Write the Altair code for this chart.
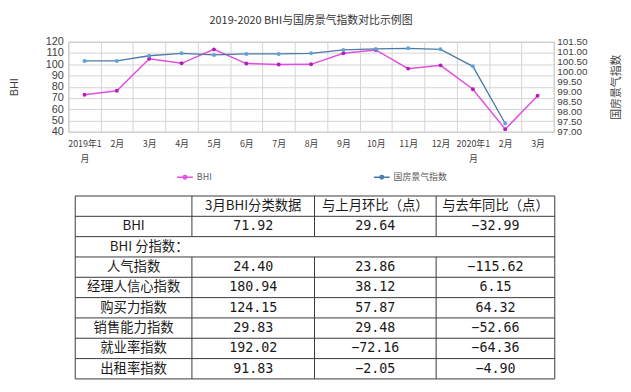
import json
import altair as alt
import pandas as pd

# ---------------- data ----------------
chart_title = "2019-2020 BHI与国房景气指数对比示例图"
months = ["2019年1月", "2月", "3月", "4月", "5月", "6月", "7月", "8月",
          "9月", "10月", "11月", "12月", "2020年1月", "2月", "3月"]
bhi = [72.9, 76.4, 104.91, 100.8, 113.2, 100.6, 99.7, 99.9,
       109.7, 112.7, 96.1, 99.0, 77.8, 42.28, 71.92]
gf_index = [100.54, 100.54, 100.80, 100.92, 100.84, 100.89, 100.89, 100.92,
            101.09, 101.14, 101.17, 101.12, 100.27, 97.41, None]
series_names = ["BHI", "国房景气指数"]
left_ticks = [40, 50, 60, 70, 80, 90, 100, 110, 120]
right_ticks = [97.0, 97.5, 98.0, 98.5, 99.0, 99.5, 100.0, 100.5, 101.0, 101.5]

table_header = ["3月BHI分类数据", "与上月环比（点）", "与去年同比（点）"]
sub_heading = "BHI 分指数："
row_names = ["BHI", "人气指数", "经理人信心指数", "购买力指数",
             "销售能力指数", "就业率指数", "出租率指数"]
val_march = [71.92, 24.40, 180.94, 124.15, 29.83, 192.02, 91.83]
val_mom = [29.64, 23.86, 38.12, 57.87, 29.48, -72.16, -2.05]
val_yoy = [-32.99, -115.62, 6.15, 64.32, -52.66, -64.36, -4.90]

# ---------------- styling ----------------
C_BHI_LINE = "#e24ee2"
C_BHI_PT = "#b41eb4"
C_GF_LINE = "#4a7aa6"
C_GF_PT = "#62a3d6"
GRID = "#d4d4d4"
TXT = "#404040"
LAT = "Liberation Sans, Noto Sans CJK SC"
CJK = "Noto Sans CJK SC"

PW, PH = 491, 91

# ---------------- top line chart ----------------
df = pd.DataFrame({"i": list(range(len(months))), "month": months,
                   "bhi": bhi, "gf": gf_index})

label_lines = [[m[:-1], m[-1]] if len(m) > 4 else m for m in months]
label_expr = json.dumps(label_lines, ensure_ascii=False) + "[datum.value]"

x_enc = alt.X(
    "i:O",
    scale=alt.Scale(type="band", paddingInner=0, paddingOuter=0),
    axis=alt.Axis(title=None, labelExpr=label_expr, labelAngle=0,
                  tickBand="extent", grid=True, gridColor=GRID, ticks=False,
                  domain=False, labelPadding=8, labelFontSize=9,
                  labelLineHeight=15, labelColor=TXT, labelFont=CJK),
)

color_scale = alt.Scale(domain=series_names, range=[C_BHI_LINE, C_GF_LINE])
legend_path = "M-1,0L1,0M-0.22,0A0.22,0.22,0,1,1,0.22,0A0.22,0.22,0,1,1,-0.22,0"
legend = alt.Legend(title=None, orient="none", legendX=109, legendY=128,
                    direction="horizontal",
                    columnPadding=160, symbolType=legend_path, symbolSize=256,
                    symbolStrokeWidth=1.5, labelFontSize=9, labelColor="#595959",
                    labelFont=CJK, labelOffset=3, padding=0)
color_enc = alt.Color("series:N", scale=color_scale, legend=legend)

y_left = alt.Y("bhi:Q", scale=alt.Scale(domain=[40, 120], nice=False, zero=False),
               axis=alt.Axis(title="BHI", values=left_ticks, grid=True,
                             gridColor=GRID, ticks=False, domain=False,
                             labelFontSize=11, labelColor=TXT, labelFont=LAT,
                             labelPadding=5, titleFontSize=11, titleColor=TXT,
                             titleFont=LAT, titleFontWeight="normal",
                             titlePadding=26, labelOverlap=False))
y_right = alt.Y("gf:Q", scale=alt.Scale(domain=[97, 101.5], nice=False, zero=False),
                axis=alt.Axis(title="国房景气指数", orient="right",
                              values=right_ticks, format=".2f", grid=False,
                              ticks=False, domain=False, labelFontSize=10,
                              labelColor=TXT, labelFont=LAT, labelPadding=3,
                              titleFontSize=11, titleColor=TXT, titleFont=CJK,
                              titleFontWeight="normal", titleAngle=270,
                              titleBaseline="top",
                              titlePadding=24, labelOverlap=False,
                              labelFlush=False))

bhi_base = alt.Chart(df).transform_calculate(
    series=json.dumps(series_names[0], ensure_ascii=False))
bhi_line = bhi_base.mark_line(strokeWidth=1.5).encode(x=x_enc, y=y_left, color=color_enc)
bhi_pts = alt.Chart(df).mark_circle(size=16, color=C_BHI_PT, opacity=1).encode(
    x=x_enc, y=y_left)

gf_df = df[df["gf"].notna()]
gf_base = alt.Chart(gf_df).transform_calculate(
    series=json.dumps(series_names[1], ensure_ascii=False))
gf_line = gf_base.mark_line(strokeWidth=1.3).encode(x=x_enc, y=y_right, color=color_enc)
gf_pts = alt.Chart(gf_df).mark_circle(size=16, color=C_GF_PT, opacity=1).encode(
    x=x_enc, y=y_right)

top = alt.layer(
    alt.layer(bhi_line, bhi_pts),
    alt.layer(gf_line, gf_pts),
).resolve_scale(y="independent").properties(
    width=PW, height=PH,
    title=alt.TitleParams(chart_title, fontSize=11, font=CJK, color="#333333",
                          fontWeight="normal", offset=10, anchor="middle"),
    view=alt.ViewBackground(stroke="#b5b5b5", strokeWidth=1),
)

# ---------------- table ----------------
TW = 493
col_edges = [7, 125, 249, 372, 492]
n_rows = 9
col_centers = [(col_edges[k] + col_edges[k + 1]) / 2 for k in range(4)]
data_row_idx = [1, 3, 4, 5, 6, 7, 8]


def fmt(v):
    s = f"{abs(v):.2f}"
    return ("−" + s) if v < 0 else s


cells = []
for k, h in enumerate(table_header):
    cells.append({"x": col_centers[k + 1], "y": 0.5, "t": h, "kind": "cjk"})
cells.append({"x": 42, "y": 2.5, "t": sub_heading, "kind": "left"})
for name, r, a, b, c in zip(row_names, data_row_idx, val_march, val_mom, val_yoy):
    cells.append({"x": col_centers[0], "y": r + 0.5, "t": name, "kind": "cjk"})
    cells.append({"x": col_centers[1], "y": r + 0.5, "t": fmt(a), "kind": "num"})
    cells.append({"x": col_centers[2], "y": r + 0.5, "t": fmt(b), "kind": "num"})
    cells.append({"x": col_centers[3], "y": r + 0.5, "t": fmt(c), "kind": "num"})
cells_df = pd.DataFrame(cells)

h_lines = pd.DataFrame({"x": [col_edges[0]] * (n_rows + 1),
                        "x2": [col_edges[-1]] * (n_rows + 1),
                        "y": list(range(n_rows + 1))})
v_rows = []
for k, e in enumerate(col_edges):
    if k in (0, len(col_edges) - 1):
        v_rows.append({"x": e, "y": 0, "y2": n_rows})
    else:
        v_rows.append({"x": e, "y": 0, "y2": 2})
        v_rows.append({"x": e, "y": 3, "y2": n_rows})
v_lines = pd.DataFrame(v_rows)

tx = alt.X("x:Q", scale=alt.Scale(domain=[0, TW], nice=False, zero=False), axis=None)
ty = alt.Y("y:Q", scale=alt.Scale(domain=[0, n_rows], nice=False, zero=False,
                                  reverse=True), axis=None)

t_h = alt.Chart(h_lines).mark_rule(color="#3a3a3a", strokeWidth=1).encode(
    x=tx, x2="x2:Q", y=ty)
t_v = alt.Chart(v_lines).mark_rule(color="#3a3a3a", strokeWidth=1).encode(
    x=tx, y=ty, y2="y2:Q")
t_cjk = alt.Chart(cells_df).transform_filter("datum.kind == 'cjk'").mark_text(
    font=CJK, fontSize=13.5, color="#1a1a1a", align="center", baseline="middle"
).encode(x=tx, y=ty, text="t:N")
t_left = alt.Chart(cells_df).transform_filter("datum.kind == 'left'").mark_text(
    font=CJK, fontSize=13.5, color="#1a1a1a", align="left", baseline="middle"
).encode(x=tx, y=ty, text="t:N")
t_num = alt.Chart(cells_df).transform_filter("datum.kind == 'num'").mark_text(
    font="DejaVu Sans Mono", fontSize=13.5, color="#1a1a1a", align="center",
    baseline="middle"
).encode(x=tx, y=ty, text="t:N")

table = alt.layer(t_h, t_v, t_cjk, t_left, t_num).properties(
    width=TW, height=185,
    view=alt.ViewBackground(stroke="transparent"),
)

chart = alt.vconcat(top, table, spacing=12).resolve_scale(
    color="independent"
).resolve_legend(color="independent").properties(
    padding={"left": 0, "top": 4, "right": 0, "bottom": 0},
    background="white",
).configure_view(stroke="transparent")

chart.save("out.html", embed_options={"renderer": "svg", "actions": False})
